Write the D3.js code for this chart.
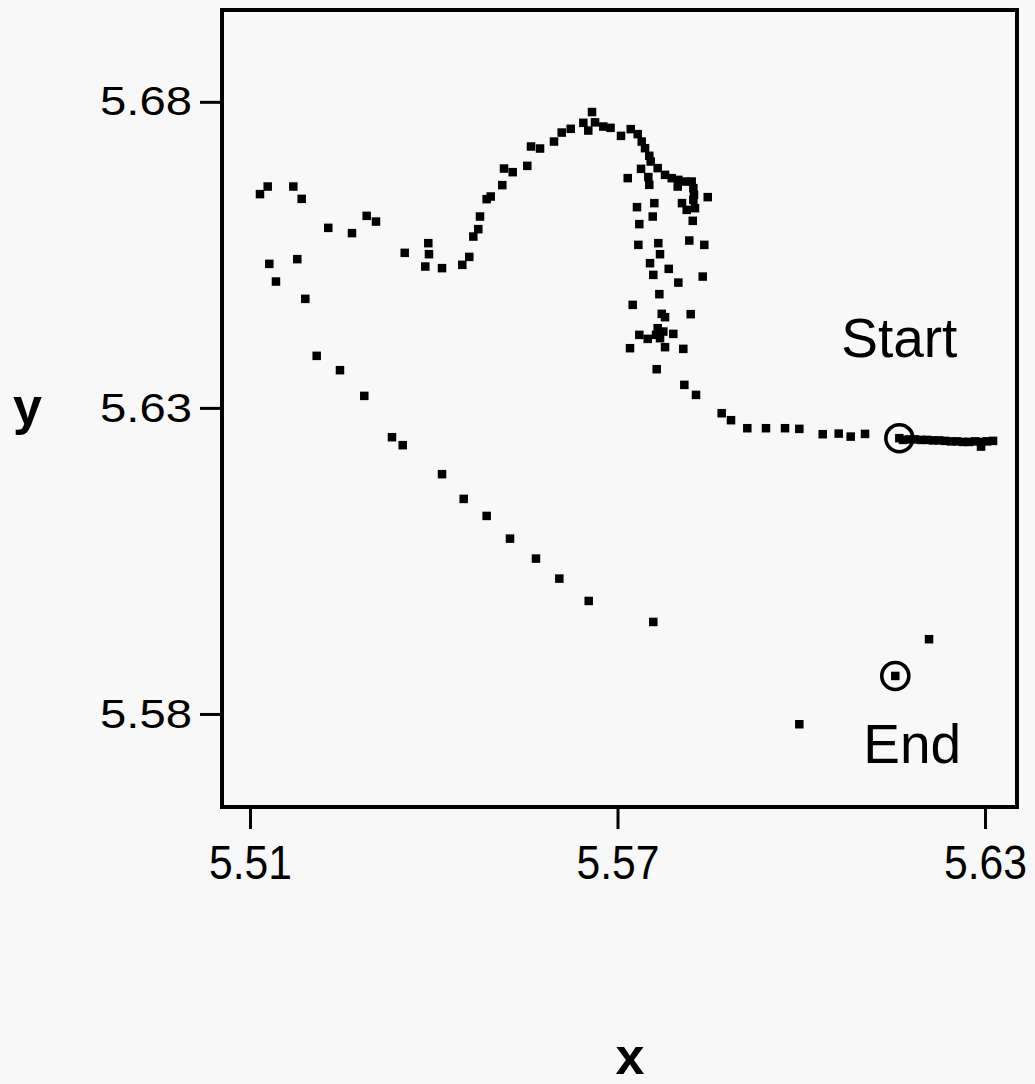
<!DOCTYPE html>
<html>
<head>
<meta charset="utf-8">
<script src="https://cdn.jsdelivr.net/npm/d3@7"></script>
<style>
  html, body { margin: 0; padding: 0; background: #f8f8f8; }
  svg { display: block; font-family: "Liberation Sans", Arial, Helvetica, sans-serif; }
</style>
</head>
<body>
<svg id="chart" width="1035" height="1084"></svg>
<script>
// Axis extents and tick values
const xDomain = [5.50543, 5.63522];
const yDomain = [5.5648, 5.695];
const xTicks = [5.51, 5.57, 5.63];
const yTicks = [5.58, 5.63, 5.68];

// Trajectory samples (x, y)
const xValues = [
  5.61601,
  5.61661, 5.61759, 5.61857, 5.61955, 5.62053, 5.62151, 5.62249, 5.62347, 5.62445,
  5.62543, 5.62641, 5.62739, 5.62837, 5.62935, 5.63033, 5.63131, 5.62935,
  5.61041, 5.60807, 5.60611, 5.60350, 5.59968, 5.59735, 5.59424, 5.59119, 5.58853,
  5.58701, 5.58282, 5.58091,
  5.57640, 5.58074, 5.57776, 5.57204, 5.57629, 5.57694, 5.57911, 5.57748, 5.57656,
  5.57493, 5.57356, 5.58195, 5.57776, 5.57722, 5.57248, 5.57683, 5.58391, 5.57993,
  5.57836, 5.57584, 5.57531, 5.58417, 5.58172, 5.57694, 5.57666, 5.57340, 5.58228,
  5.57356, 5.57575, 5.57601, 5.57318, 5.58238, 5.58265, 5.58130, 5.58053, 5.58473,
  5.57519, 5.57503, 5.57167, 5.57384, 5.57983, 5.58249, 5.58238, 5.58211, 5.58102,
  5.57993, 5.57885, 5.57776, 5.57656, 5.57542, 5.57519, 5.57449, 5.57395, 5.57330,
  5.57216, 5.57057, 5.56886, 5.56768, 5.56633, 5.56584, 5.56523, 5.56442, 5.56236,
  5.56089, 5.55963, 5.55735, 5.55588, 5.55527, 5.55289, 5.55147, 5.55119, 5.54930,
  5.54864, 5.54755, 5.54727, 5.54646, 5.54580, 5.54466, 5.54135, 5.53862, 5.53922,
  5.53911, 5.53526, 5.53057, 5.52905, 5.52665, 5.52278, 5.51844, 5.51707, 5.51289,
  5.51163, 5.51315, 5.51424, 5.51772, 5.51903,
  5.52089, 5.52469, 5.52866, 5.53318, 5.53493, 5.54135, 5.54489, 5.54864, 5.55245,
  5.55669, 5.56050, 5.56530, 5.57584, 5.59968, 5.62086, 5.61535
];
const yValues = [
  5.62505,
  5.62477, 5.62485, 5.62485, 5.62477, 5.62477, 5.62469, 5.62469, 5.62461, 5.62453,
  5.62453, 5.62444, 5.62444, 5.62453, 5.62444, 5.62453, 5.62461, 5.62368,
  5.62575, 5.62531, 5.62580, 5.62570, 5.62657, 5.62668, 5.62668, 5.62668, 5.62799,
  5.62913, 5.63212, 5.63376,
  5.63632, 5.63964, 5.63992, 5.63975, 5.64193, 5.64139, 5.64209, 5.64247, 5.64302,
  5.64127, 5.64193, 5.64531, 5.64482, 5.64536, 5.64683, 5.64858, 5.65145, 5.65047,
  5.65271, 5.65173, 5.65364, 5.65663, 5.65734, 5.65511, 5.65691, 5.65663, 5.66056,
  5.66002, 5.66126, 5.66345, 5.66279, 5.66399, 5.66263, 5.66235, 5.66345, 5.66443,
  5.66644, 5.66770, 5.66753, 5.66905, 5.66616, 5.66480, 5.66590, 5.66698, 5.66698,
  5.66725, 5.66753, 5.66807, 5.66917, 5.67025, 5.67118, 5.67243, 5.67351, 5.67472,
  5.67554, 5.67444, 5.67575, 5.67596, 5.67665, 5.67833, 5.67531, 5.67657, 5.67559,
  5.67498, 5.67351, 5.67237, 5.67270, 5.66954, 5.66851, 5.66910, 5.66639, 5.66453,
  5.66410, 5.66126, 5.65920, 5.65799, 5.65467, 5.65337, 5.65283, 5.65309, 5.65511,
  5.65691, 5.65533, 5.66044, 5.66137, 5.65855, 5.65941, 5.66415, 5.66616, 5.66616,
  5.66492, 5.65353, 5.65064, 5.65430, 5.64781,
  5.63850, 5.63616, 5.63196, 5.62521, 5.62391, 5.61917, 5.61513, 5.61235, 5.60864,
  5.60538, 5.60211, 5.59846, 5.59503, 5.57832, 5.59221, 5.58621
];

// Marked endpoints of the trajectory
const markerLabels = ["Start", "End"];
const markerX = [5.61601, 5.61535];
const markerY = [5.62505, 5.58621];

const svg = d3.select("#chart");
const plot = { left: 222, right: 1017, top: 10, bottom: 807 };

const x = d3.scaleLinear().domain(xDomain).range([plot.left, plot.right]);
const y = d3.scaleLinear().domain(yDomain).range([plot.bottom, plot.top]);

// Bottom axis
const gx = svg.append("g")
  .attr("transform", `translate(0,${plot.bottom})`)
  .call(d3.axisBottom(x).tickValues(xTicks).tickFormat(d3.format(".2f"))
        .tickSize(22).tickPadding(16));
gx.select(".domain").remove();
gx.selectAll(".tick line").attr("stroke", "#000").attr("stroke-width", 3);
gx.selectAll(".tick text")
  .attr("fill", "#000")
  .style("font-size", "48px")
  .attr("textLength", 83)
  .attr("lengthAdjust", "spacingAndGlyphs");

// Left axis
const gy = svg.append("g")
  .attr("transform", `translate(${plot.left},0)`)
  .call(d3.axisLeft(y).tickValues(yTicks).tickFormat(d3.format(".2f"))
        .tickSize(22).tickPadding(8));
gy.select(".domain").remove();
gy.selectAll(".tick line").attr("stroke", "#000").attr("stroke-width", 3);
gy.selectAll(".tick text")
  .attr("fill", "#000")
  .style("font-size", "41px")
  .attr("textLength", 92)
  .attr("lengthAdjust", "spacingAndGlyphs");

// Plot frame
svg.append("rect")
  .attr("x", plot.left).attr("y", plot.top)
  .attr("width", plot.right - plot.left).attr("height", plot.bottom - plot.top)
  .attr("fill", "none").attr("stroke", "#000").attr("stroke-width", 4);

// Square markers
const s = 8.5;
svg.append("g")
  .selectAll("rect")
  .data(d3.range(xValues.length))
  .join("rect")
  .attr("x", i => x(xValues[i]) - s / 2)
  .attr("y", i => y(yValues[i]) - s / 2)
  .attr("width", s).attr("height", s)
  .attr("fill", "#000");

// Start / End rings and labels
const ann = svg.append("g");
markerLabels.forEach((label, i) => {
  const cx = x(markerX[i]), cy = y(markerY[i]);
  ann.append("circle")
    .attr("cx", cx).attr("cy", cy).attr("r", 13.5)
    .attr("fill", "none").attr("stroke", "#000").attr("stroke-width", 3.6);
  ann.append("text")
    .attr("x", i === 0 ? cx : cx + 17)
    .attr("y", i === 0 ? cy - 81 : cy + 87)
    .attr("text-anchor", "middle")
    .style("font-size", "55px")
    .attr("fill", "#000")
    .text(label);
});

// Axis titles
svg.append("text")
  .attr("x", 27.5).attr("y", 424)
  .attr("text-anchor", "middle")
  .style("font-size", "52px").style("font-weight", "bold")
  .text("y");
svg.append("text")
  .attr("x", 630).attr("y", 1074)
  .attr("text-anchor", "middle")
  .style("font-size", "52px").style("font-weight", "bold")
  .text("x");
</script>
</body>
</html>
